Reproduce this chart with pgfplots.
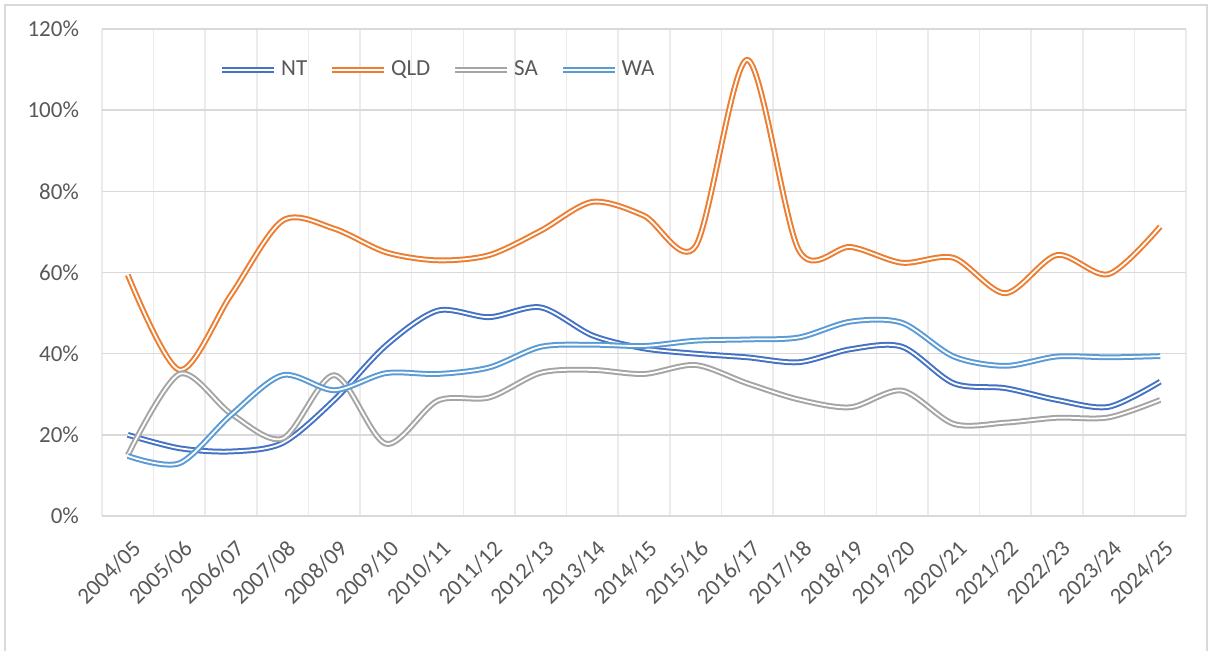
\documentclass[border=0pt]{standalone}
\usepackage{fontspec}
\setmainfont{Carlito}
\usepackage{pgfplots}
\usepackage{pgfplotstable}
\pgfplotsset{compat=1.18}
\definecolor{NTc}{HTML}{4472C4}
\definecolor{QLDc}{HTML}{ED7D31}
\definecolor{SAc}{HTML}{A5A5A5}
\definecolor{WAc}{HTML}{5B9BD5}
\definecolor{txt}{HTML}{595959}
\definecolor{hgrid}{HTML}{D9D9D9}
\definecolor{vgrid}{HTML}{EBEBEB}

\pgfplotstableread{
x NT QLD SA WA
0 20.0 59.4 15.0 14.8
1 16.7 36.0 35.0 13.0
2 15.9 54.5 25.2 24.9
3 18.0 72.8 19.1 34.7
4 28.6 70.8 34.7 31.0
5 42.0 65.0 17.8 35.2
6 50.6 63.0 28.4 35.0
7 49.0 64.3 29.2 36.6
8 51.4 70.3 35.3 41.7
9 44.5 77.4 36.0 42.2
10 41.3 74.0 35.0 41.9
11 40.0 66.5 37.2 43.2
12 39.1 112.4 32.7 43.5
13 37.9 65.5 28.7 44.0
14 41.1 66.3 26.8 47.9
15 41.7 62.4 30.9 47.6
16 32.7 63.6 22.7 39.3
17 31.5 54.9 23.0 37.0
18 28.6 64.3 24.2 39.3
19 26.9 59.6 24.3 39.1
20 33.1 71.3 28.6 39.4
}\datatable

\begin{document}
\begin{tikzpicture}
\path[use as bounding box] (-51pt,-67pt) rectangle (553pt,258pt);
\draw[hgrid, line width=0.75pt] (-48.5pt,-70pt) -- (-48.5pt,255.5pt) -- (552.5pt,255.5pt) -- (552.5pt,-70pt);
\begin{axis}[
  at={(0,0)}, anchor=south west,
  scale only axis, width=542pt, height=243.5pt,
  xmin=-0.5, xmax=20.5, ymin=0, ymax=120,
  axis line style={draw=none},
  xtick={0,...,20},
  xticklabels={2004/05,2005/06,2006/07,2007/08,2008/09,2009/10,2010/11,2011/12,2012/13,2013/14,2014/15,2015/16,2016/17,2017/18,2018/19,2019/20,2020/21,2021/22,2022/23,2023/24,2024/25},
  minor xtick={-0.5,0.5,...,20.5},
  xminorgrids, minor grid style={vgrid, line width=0.75pt},
  ytick={0,20,...,120},
  yticklabel={\pgfmathparse{int(\tick)}\pgfmathresult\%},
  ymajorgrids, major grid style={hgrid, line width=0.75pt},
  major tick length=0pt, minor tick length=0pt,
  tick label style={font=\fontsize{11.5}{13}\selectfont, text=txt},
  yticklabel style={xshift=-8pt},
  xticklabel style={yshift=-11pt, xshift=1.5pt, rotate=45, anchor=north east, inner sep=0pt},
  no markers,
  every axis plot/.append style={smooth, line width=1pt, double=white, double distance=0.9pt},
  legend columns=4,
  legend style={draw=none, fill=none, at={(axis description cs:0.1024,0.916)}, anchor=west,
    font=\fontsize{11.5}{13}\selectfont, text=txt,
    /tikz/every even column/.append style={column sep=9pt}},
  legend image code/.code={\draw[#1] (0pt,0pt) -- (26pt,0pt);},
]
\addplot[draw=NTc] table[x=x, y=NT] {\datatable};
\addlegendentry{NT}
\addplot[draw=QLDc] table[x=x, y=QLD] {\datatable};
\addlegendentry{QLD}
\addplot[draw=SAc] table[x=x, y=SA] {\datatable};
\addlegendentry{SA}
\addplot[draw=WAc] table[x=x, y=WA] {\datatable};
\addlegendentry{WA}
\end{axis}
\end{tikzpicture}
\end{document}
